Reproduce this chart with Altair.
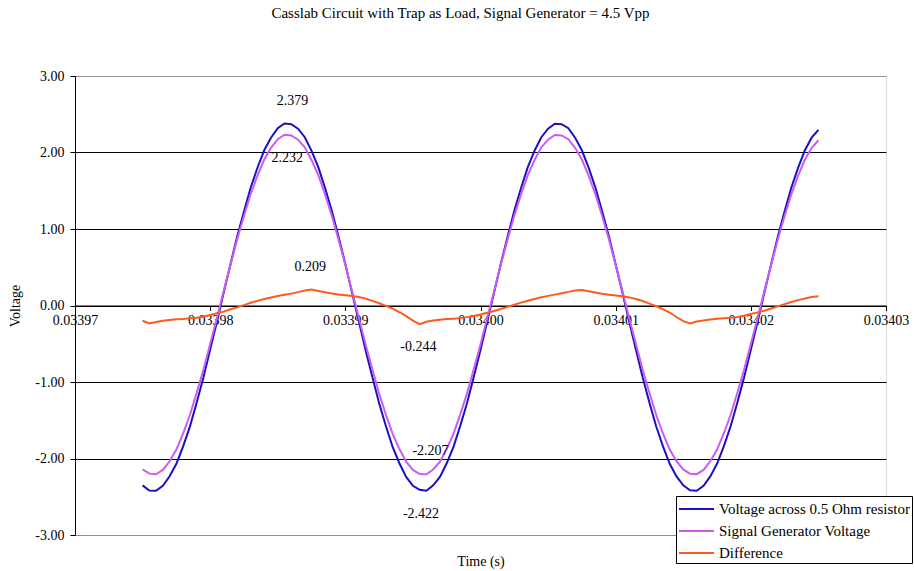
import altair as alt
import pandas as pd

# ---- data ----
t_start = 0.033975
t_step = 0.0000005

blue = [
    -2.351, -2.418, -2.422, -2.357, -2.233, -2.069, -1.842, -1.583, -1.270, -0.941,
    -0.576, -0.211, 0.171, 0.537, 0.902, 1.230, 1.542, 1.801, 2.029, 2.194,
    2.317, 2.379, 2.370, 2.311, 2.200, 2.022, 1.808, 1.535, 1.238, 0.895,
    0.544, 0.165, -0.205, -0.584, -0.935, -1.277, -1.575, -1.849, -2.062, -2.240,
    -2.357, -2.410, -2.422, -2.351, -2.240, -2.063, -1.848, -1.576, -1.277, -0.935,
    -0.583, -0.205, 0.165, 0.543, 0.895, 1.237, 1.536, 1.808, 2.023, 2.200,
    2.311, 2.376, 2.370, 2.317, 2.194, 2.029, 1.802, 1.542, 1.231, 0.901,
    0.537, 0.171, -0.211, -0.577, -0.941, -1.271, -1.582, -1.842, -2.069, -2.234,
    -2.351, -2.416, -2.421, -2.357, -2.234, -2.069, -1.842, -1.582, -1.271, -0.941,
    -0.577, -0.211, 0.171, 0.537, 0.901, 1.231, 1.542, 1.802, 2.029, 2.194, 2.295,
]

magenta = [
    -2.143, -2.198, -2.207, -2.149, -2.036, -1.883, -1.673, -1.432, -1.144, -0.840,
    -0.503, -0.165, 0.190, 0.528, 0.865, 1.169, 1.457, 1.698, 1.908, 2.061,
    2.174, 2.232, 2.223, 2.168, 2.067, 1.902, 1.704, 1.451, 1.175, 0.859,
    0.534, 0.184, -0.159, -0.509, -0.834, -1.150, -1.426, -1.679, -1.877, -2.042,
    -2.149, -2.203, -2.207, -2.143, -2.042, -1.877, -1.679, -1.426, -1.150, -0.834,
    -0.509, -0.159, 0.184, 0.534, 0.859, 1.175, 1.451, 1.704, 1.902, 2.067,
    2.168, 2.229, 2.223, 2.174, 2.061, 1.908, 1.698, 1.457, 1.169, 0.865,
    0.528, 0.190, -0.165, -0.503, -0.840, -1.144, -1.432, -1.673, -1.883, -2.036,
    -2.143, -2.198, -2.204, -2.149, -2.036, -1.883, -1.673, -1.432, -1.144, -0.840,
    -0.503, -0.165, 0.190, 0.528, 0.865, 1.169, 1.457, 1.698, 1.908, 2.061, 2.160,
]

difference = [
    -0.200, -0.235, -0.215, -0.200, -0.190, -0.180, -0.175, -0.168, -0.160, -0.148,
    -0.125, -0.100, -0.080, -0.050, -0.025, 0.005, 0.035, 0.060, 0.085, 0.105,
    0.125, 0.140, 0.155, 0.175, 0.195, 0.209, 0.190, 0.172, 0.158, 0.145,
    0.135, 0.125, 0.110, 0.090, 0.060, 0.030, -0.005, -0.040, -0.085, -0.140,
    -0.198, -0.244, -0.212, -0.196, -0.186, -0.178, -0.172, -0.165, -0.152, -0.138,
    -0.118, -0.095, -0.072, -0.045, -0.018, 0.010, 0.038, 0.062, 0.085, 0.108,
    0.126, 0.142, 0.160, 0.178, 0.196, 0.203, 0.185, 0.170, 0.155, 0.142,
    0.132, 0.120, 0.106, 0.085, 0.058, 0.025, -0.010, -0.048, -0.092, -0.150,
    -0.205, -0.235, -0.210, -0.195, -0.182, -0.174, -0.168, -0.160, -0.150, -0.135,
    -0.112, -0.090, -0.068, -0.040, -0.012, 0.018, 0.045, 0.070, 0.092, 0.110, 0.120,
]

times = [round(t_start + t_step * i, 9) for i in range(len(blue))]

series_names = ["Voltage across 0.5 Ohm resistor", "Signal Generator Voltage", "Difference"]
series_colors = ["#1a10c4", "#cc5cf0", "#ff5a1e"]

x_ticks = [0.03397, 0.03398, 0.03399, 0.03400, 0.03401, 0.03402, 0.03403]
y_ticks = [-3, -2, -1, 0, 1, 2, 3]

# annotations: labels above / below the extreme points
above_t = [0.0339861, 0.0339874, 0.0339963]
above_v = [2.379, 0.209, -2.207]
below_t = [0.0339857, 0.0339954, 0.0339956]
below_v = [2.232, -0.244, -2.422]

rows = []
for name, vals in zip(series_names, [blue, magenta, difference]):
    for t, v in zip(times, vals):
        rows.append({"t": t, "v": v, "series": name})
df = pd.DataFrame(rows)

df_above = pd.DataFrame({"t": above_t, "v": above_v, "label": [f"{v:.3f}" for v in above_v]})
df_below = pd.DataFrame({"t": below_t, "v": below_v, "label": [f"{v:.3f}" for v in below_v]})

FONT = "Liberation Serif, Times New Roman, serif"
FS = 14

x_scale = alt.Scale(domain=[0.03397, 0.03403], nice=False, zero=False)
y_scale = alt.Scale(domain=[-3, 3], nice=False)

lines = alt.Chart(df).mark_line(strokeWidth=2).encode(
    x=alt.X("t:Q", scale=x_scale,
            axis=alt.Axis(values=x_ticks, format=".5f", offset=-229.5, grid=False,
                          tickSize=5, tickColor="black", domainColor="black",
                          labelPadding=3, labelFont=FONT, labelFontSize=FS,
                          labelColor="black", labelOverlap=False, labelFlush=False,
                          title="Time (s)", titleFont=FONT, titleFontSize=FS,
                          titleFontWeight="normal", titleColor="black",
                          titleY=256, titleBaseline="middle")),
    y=alt.Y("v:Q", scale=y_scale,
            axis=alt.Axis(values=y_ticks,
                          labelExpr="replace(format(datum.value, '.2f'), '\u2212', '-')",
                          tickSize=5, tickColor="black",
                          domainColor="black", labelPadding=6, labelFont=FONT,
                          labelFontSize=FS, labelColor="black",
                          grid=True,
                          gridColor={"condition": {"test": "datum.value == 3 || datum.value == -3",
                                                   "value": "#909090"},
                                     "value": "black"},
                          gridWidth=1,
                          title="Voltage", titleFont=FONT, titleFontSize=FS,
                          titleFontWeight="normal", titleColor="black",
                          titleAngle=270, titleX=-60, titleY=229.5,
                          titleAlign="center", titleBaseline="middle")),
    color=alt.Color("series:N",
                    scale=alt.Scale(domain=series_names, range=series_colors),
                    sort=series_names,
                    legend=alt.Legend(title=None, orient="none", legendX=601, legendY=420,
                                      symbolType="M-1,0H2.5", symbolSize=400,
                                      symbolStrokeWidth=2, symbolFillColor="transparent",
                                      labelFont=FONT,
                                      labelFontSize=15, labelColor="black",
                                      strokeColor="black", fillColor="white",
                                      padding=2, rowPadding=3, labelOffset=19,
                                      labelLimit=300)),
    detail="series:N",
)

text_above = alt.Chart(df_above).mark_text(font=FONT, fontSize=FS, dy=-23,
                                           align="center", baseline="middle",
                                           color="black").encode(
    x=alt.X("t:Q", scale=x_scale), y=alt.Y("v:Q", scale=y_scale), text="label:N")

text_below = alt.Chart(df_below).mark_text(font=FONT, fontSize=FS, dy=23,
                                           align="center", baseline="middle",
                                           color="black").encode(
    x=alt.X("t:Q", scale=x_scale), y=alt.Y("v:Q", scale=y_scale), text="label:N")

chart = alt.layer(lines, text_above, text_below).properties(
    width=811, height=459,
    autosize=alt.AutoSizeParams(type="none"),
    padding={"left": 75, "top": 76, "right": 28, "bottom": 36},
    title=alt.TitleParams("Casslab Circuit with Trap as Load, Signal Generator = 4.5 Vpp",
                          font=FONT, fontSize=15, fontWeight="normal", color="black",
                          anchor="middle", offset=41, dx=-20, baseline="middle"),
).configure_view(stroke="#909090", strokeWidth=1.5).configure(background="white")

chart.save("out.html", embed_options={"renderer": "svg", "actions": False})
